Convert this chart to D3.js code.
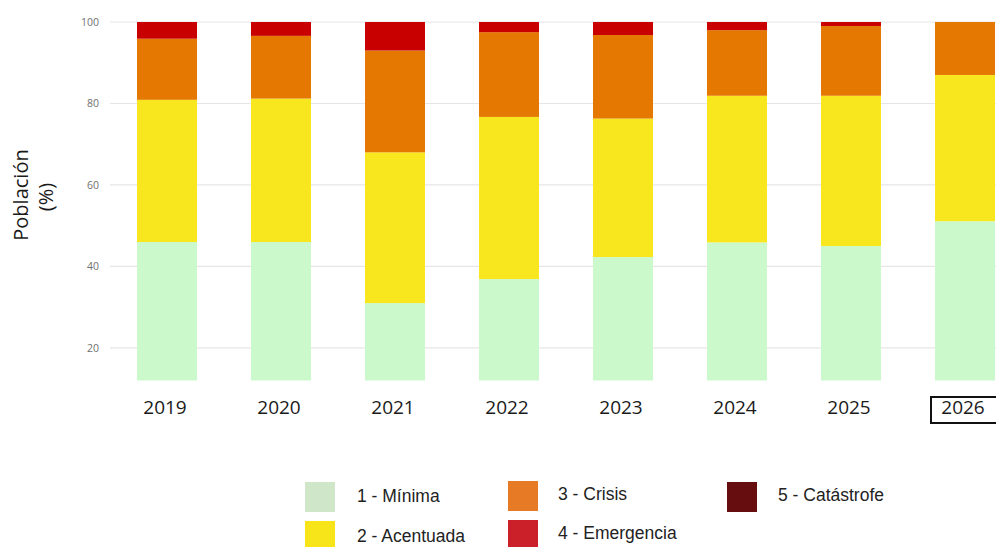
<!DOCTYPE html>
<html><head><meta charset="utf-8">
<script src="https://cdn.jsdelivr.net/npm/d3@7"></script>
<style>html,body{margin:0;padding:0;background:#fff;overflow:hidden}</style>
</head><body><svg id="c" width="996" height="547"></svg>
<script>
const years = ["2019","2020","2021","2022","2023","2024","2025","2026"];
const minima = [46.0, 46.0, 31.0, 36.9, 42.3, 45.9, 45.0, 51.1];
const acentuada = [34.9, 35.2, 37.0, 39.8, 34.0, 36.0, 36.9, 35.9];
const crisis = [15.0, 15.4, 25.0, 20.8, 20.5, 16.1, 17.1, 13.0];
const emergencia = [4.1, 3.4, 7.0, 2.5, 3.2, 2.0, 1.0, 0.0];
const catastrofe = [0, 0, 0, 0, 0, 0, 0, 0];
const yTicks = [20, 40, 60, 80, 100];
const seriesNames = ["1 - Mínima","2 - Acentuada","3 - Crisis","4 - Emergencia","5 - Catástrofe"];
const barColors = ["#ccf9cc","#f8e61e","#e57800","#c80000","#650d0f"];
const legendColors = ["#cfe6c8","#f7e51a","#e77a24","#cb1f29","#650d0f"];

const svg = d3.select("#c");
const x = d3.scaleBand().domain(years).range([110, 1022]).paddingInner(54/114).paddingOuter(27/114);
const y = d3.scaleLinear().domain([12, 100]).range([380.5, 22]);

// grid
svg.append("g").selectAll("line").data(yTicks).join("line")
  .attr("x1", 110).attr("x2", 996)
  .attr("y1", d => y(d)).attr("y2", d => y(d))
  .attr("stroke", "#e6e6e6").attr("stroke-width", 1.2);
svg.append("g").selectAll("text").data(yTicks).join("text")
  .attr("x", 99).attr("y", d => y(d)).attr("dy", "0.35em")
  .attr("text-anchor", "end").attr("font-family", "Open Sans, sans-serif")
  .attr("font-size", 10.5).attr("fill", "#707070").text(d => d);

// stack
const rows = years.map((yr, i) => ({year: yr, s0: minima[i], s1: acentuada[i], s2: crisis[i], s3: emergencia[i], s4: catastrofe[i]}));
const stack = d3.stack().keys(["s0","s1","s2","s3","s4"])(rows);
svg.append("g").selectAll("g").data(stack).join("g")
  .attr("fill", (d, i) => barColors[i])
  .selectAll("rect").data(d => d).join("rect")
  .attr("x", d => x(d.data.year))
  .attr("width", x.bandwidth())
  .attr("y", d => y(Math.min(100, d[1])))
  .attr("height", d => Math.max(0, y(Math.max(12, d[0])) - y(Math.min(100, d[1]))));

// x labels
svg.append("g").selectAll("text").data(years).join("text")
  .attr("x", d => x(d) + x.bandwidth()/2 - 2).attr("y", 414)
  .attr("text-anchor", "middle").attr("font-family", "Open Sans, sans-serif")
  .attr("font-size", 19).attr("fill", "#1a1a1a").text(d => d);
// box around last label
svg.append("rect").attr("x", x("2026") - 4).attr("y", 397).attr("width", 80).attr("height", 26)
  .attr("fill", "none").attr("stroke", "#111").attr("stroke-width", 2);

// y title
const yt = svg.append("text").attr("transform", "translate(28,195) rotate(-90)")
  .attr("text-anchor", "middle").attr("font-family", "Open Sans, sans-serif")
  .attr("font-size", 20).attr("fill", "#1a1a1a");
yt.append("tspan").attr("x", 0).attr("y", 0).text("Población");
yt.append("tspan").attr("x", -2).attr("y", 25).text("(%)");

// legend
const legPos = [[305, 482, 357, 502], [305, 521, 357, 542], [508, 481, 558, 500], [508, 520, 558, 539], [727, 482, 778, 501]];
const lg = svg.append("g");
seriesNames.forEach((n, i) => {
  const p = legPos[i];
  lg.append("rect").attr("x", p[0]).attr("y", p[1]).attr("width", 30).attr("height", 30).attr("fill", legendColors[i]);
  lg.append("text").attr("x", p[2]).attr("y", p[3]).attr("font-family", "Liberation Sans, Arial, sans-serif")
    .attr("font-size", 17.5).attr("fill", "#222").attr("textLength", null).text(n);
});
</script></body></html>
